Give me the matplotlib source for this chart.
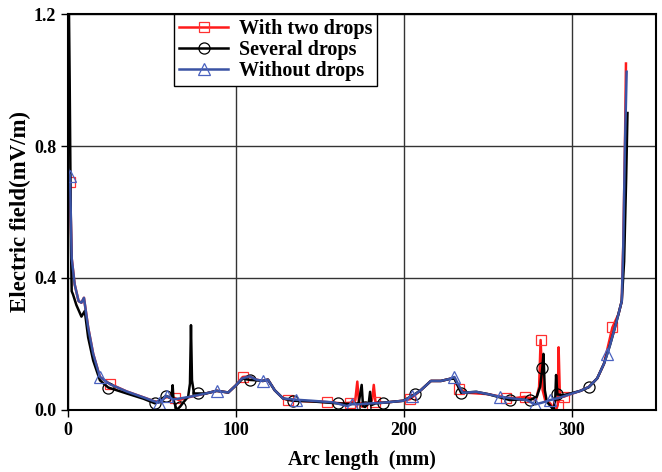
import matplotlib.pyplot as plt

plt.rcParams['font.family'] = 'Liberation Serif'
plt.rcParams['font.weight'] = 'bold'

# Without drops (blue)
x_none = [0, 1.2, 2.2, 4, 6.3, 8, 9.5, 12, 15, 19, 25, 35, 45, 51, 54, 56, 58.7,
          62.7, 68, 74.6, 82, 88.5, 95.4, 100, 103.4, 108, 112, 116, 119, 123, 128,
          136, 145, 158, 166, 169, 172, 180, 187.5, 199.6, 205, 210, 216, 222, 227,
          230, 232, 235, 243, 250, 257, 265, 273, 278, 282, 287, 293, 299, 305, 310,
          315, 319, 321, 322.6, 325, 327.6, 329.6, 330.5, 331.5, 332.5]
y_none = [0.73, 0.71, 0.46, 0.38, 0.33, 0.325, 0.34, 0.25, 0.17, 0.10, 0.078, 0.056,
          0.038, 0.027, 0.022, 0.03, 0.042, 0.032, 0.036, 0.042, 0.05, 0.058, 0.053,
          0.075, 0.095, 0.102, 0.092, 0.088, 0.092, 0.06, 0.035, 0.031, 0.028, 0.023,
          0.012, 0.018, 0.017, 0.02, 0.022, 0.028, 0.042, 0.06, 0.088, 0.088, 0.094,
          0.1, 0.08, 0.052, 0.055, 0.048, 0.04, 0.035, 0.03, 0.017, 0.022, 0.03, 0.038,
          0.048, 0.058, 0.07, 0.096, 0.14, 0.17, 0.197, 0.24, 0.29, 0.33, 0.5, 0.8, 1.025]
mk_none = [1, 9, 14, 16, 21, 27, 31, 35, 40, 45, 50, 53, 55, 62]

# With two drops (red)
x_two = [0, 1.2, 2.2, 4, 6.3, 8, 9.5, 12, 15, 19, 25, 35, 45, 51, 54, 58, 61, 63.7,
         66, 70, 74.6, 82, 88.5, 95.4, 100, 104, 108, 112, 116, 119, 123, 128, 131,
         140, 154, 163, 168, 171, 172.2, 173.2, 175, 178, 181, 182, 183, 187.5, 199.6,
         203.6, 210, 216, 222, 227, 230, 233, 238, 250, 260.7, 266, 272, 276, 278.5,
         280.4, 281.3, 282.5, 284, 287, 289, 290.5, 291.5, 292, 292.8, 295, 299, 305,
         310, 315, 319, 324, 327.6, 329.6, 330.5, 331.5, 332.1]
y_two = [0.72, 0.69, 0.46, 0.38, 0.33, 0.325, 0.34, 0.25, 0.17, 0.10, 0.079, 0.056,
         0.038, 0.027, 0.024, 0.038, 0.04, 0.036, 0.03, 0.036, 0.042, 0.05, 0.058, 0.053,
         0.075, 0.10, 0.102, 0.092, 0.088, 0.092, 0.06, 0.035, 0.03, 0.027, 0.024, 0.02,
         0.022, 0.03, 0.086, 0.02, 0.01, 0.015, 0.03, 0.076, 0.024, 0.022, 0.028,
         0.033, 0.06, 0.088, 0.088, 0.094, 0.098, 0.063, 0.052, 0.048, 0.037, 0.036,
         0.04, 0.035, 0.03, 0.07, 0.212, 0.06, 0.03, 0.02, 0.005, 0.0, 0.015, 0.19,
         0.04, 0.04, 0.048, 0.058, 0.07, 0.096, 0.14, 0.25, 0.29, 0.33, 0.5, 0.8, 1.05]
mk_two = [1, 10, 17, 25, 32, 34, 36, 40, 44, 47, 53, 56, 58, 62, 68, 71, 77]

# Several drops (black)
x_sev = [0.3, 1, 1.8, 2.2, 3, 5, 8, 10, 12, 15, 19, 24, 35, 45, 51.8, 55, 58.3,
         61, 61.8, 62.3, 62.8, 64.7, 66.7, 69, 71.5, 72.6, 73.2, 73.8, 75, 77.6, 82,
         88.5, 95.4, 100, 104, 108.5, 112, 116, 119, 123, 128, 134, 145, 161, 168,
         173, 174.8, 175.6, 176.8, 179, 179.8, 180.6, 183, 187.7, 199.6, 206.5, 210,
         216, 222, 227, 230, 234, 243, 250, 263, 269, 275, 279, 281, 282.3, 283,
         283.8, 285, 287.5, 289, 290, 290.5, 291.3, 295, 299, 305, 310, 315, 319,
         322.6, 325, 327.6, 329.6, 331, 332.2, 333]
y_sev = [1.35, 1.0, 0.5, 0.36, 0.35, 0.318, 0.283, 0.3, 0.22, 0.15, 0.09, 0.068,
         0.05, 0.034, 0.02, 0.03, 0.043, 0.036, 0.05, 0.075, 0.03, 0.0, 0.01, 0.025,
         0.04, 0.08, 0.257, 0.09, 0.05, 0.05, 0.05, 0.058, 0.053, 0.075, 0.095, 0.091,
         0.09, 0.088, 0.092, 0.06, 0.035, 0.028, 0.026, 0.02, 0.018, 0.02, 0.076,
         0.012, 0.009, 0.02, 0.055, 0.015, 0.02, 0.022, 0.028, 0.048, 0.06, 0.088,
         0.088, 0.094, 0.095, 0.052, 0.055, 0.048, 0.03, 0.032, 0.03, 0.04, 0.07,
         0.126, 0.17, 0.06, 0.025, 0.01, 0.0, 0.03, 0.106, 0.047, 0.045, 0.05, 0.058,
         0.069, 0.096, 0.14, 0.197, 0.24, 0.29, 0.33, 0.45, 0.7, 0.9]
mk_sev = [11, 14, 16, 22, 29, 35, 41, 43, 48, 53, 55, 61, 64, 66, 69, 77, 81]

fig = plt.figure(figsize=(6.62, 4.72), dpi=100)
ax = fig.add_axes([0.1027, 0.1314, 0.8883, 0.8389])

ax.plot(x_two, y_two, color='#ff1a1a', lw=1.8, marker='s', markersize=7.5,
        markerfacecolor='none', markeredgecolor='#ff3030', markeredgewidth=0.9,
        markevery=mk_two, label='With two drops')
ax.plot(x_sev, y_sev, color='black', lw=1.8, marker='o', markersize=8,
        markerfacecolor='none', markeredgewidth=0.9,
        markevery=mk_sev, label='Several drops')
ax.plot(x_none, y_none, color='#3a53a4', lw=1.8, marker='^', markersize=8.5,
        markerfacecolor='none', markeredgecolor='#4a62c0', markeredgewidth=0.9,
        markevery=mk_none, label='Without drops')

ax.set_xlim(0, 350)
ax.set_ylim(0, 1.2)
ax.set_xticks([0, 100, 200, 300])
ax.set_yticks([0.0, 0.4, 0.8, 1.2])
ax.set_yticklabels(['0.0', '0.4', '0.8', '1.2'])
ax.grid(True, color='#333333', lw=1.0)
ax.tick_params(direction='out', length=5, width=1, labelsize=13)
for s in ax.spines.values():
    s.set_linewidth(1.5)

ax.set_xlabel('Arc length  (mm)', fontsize=14.5, fontweight='bold', labelpad=8)
ax.set_ylabel('Electric field(mV/m)', fontsize=16.5, fontweight='bold', labelpad=2)

leg = ax.legend(loc='upper left', bbox_to_anchor=(0.181, 1.0), fontsize=14.5,
                frameon=True, fancybox=False, edgecolor='black', framealpha=1,
                handlelength=2.4, borderpad=0.25, labelspacing=0.05,
                handletextpad=0.55, borderaxespad=0)
leg.get_frame().set_linewidth(1.0)
leg.set_zorder(5)

fig.savefig('out.png', dpi=100)
